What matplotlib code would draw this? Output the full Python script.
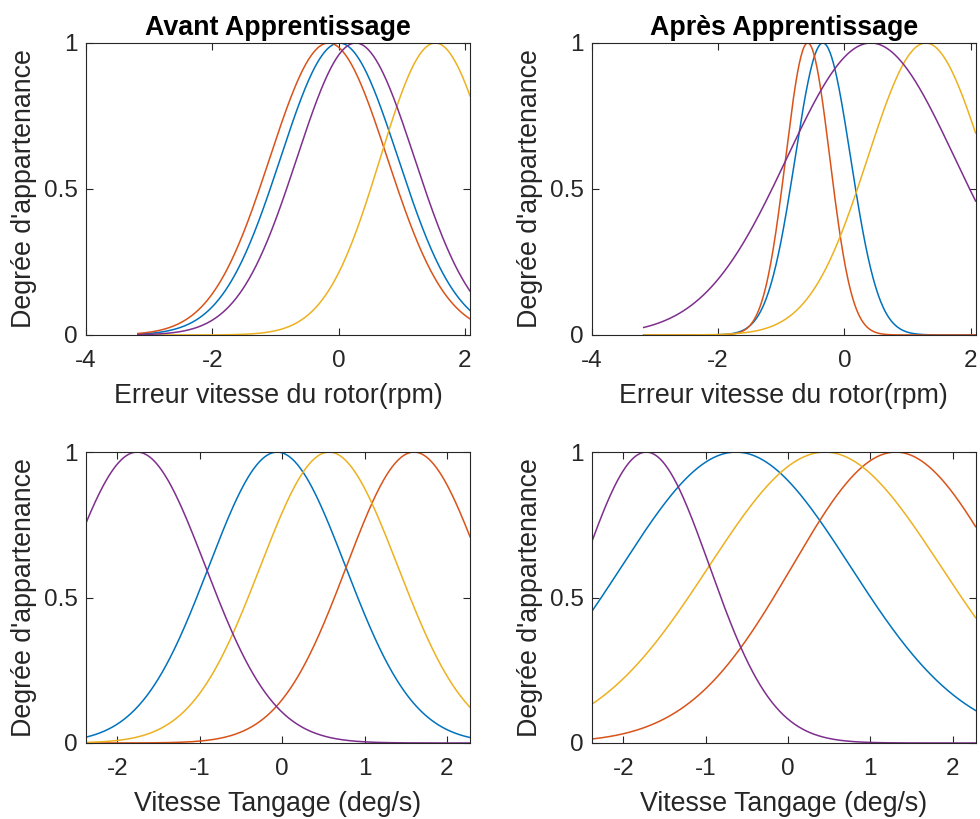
import numpy as np
import matplotlib
matplotlib.use("Agg")
import matplotlib.pyplot as plt

plt.rcParams['font.family'] = ['Liberation Sans', 'DejaVu Sans']

# Paramètres des fonctions d'appartenance gaussiennes (centre, sigma)
# ordre des couleurs : bleu, rouge, jaune, violet
err_centres_avant = [0.01, -0.16, 1.53, 0.27]
err_sigmas_avant = [0.93, 0.93, 0.87, 0.93]
err_centres_apres = [-0.34, -0.58, 1.29, 0.42]
err_sigmas_apres = [0.44, 0.35, 0.92, 1.33]
tang_centres_avant = [-0.06, 1.60, 0.57, -1.76]
tang_sigmas_avant = [0.83, 0.82, 0.835, 0.83]
tang_centres_apres = [-0.63, 1.31, 0.45, -1.72]
tang_sigmas_apres = [1.39, 1.26, 1.41, 0.77]

err_range = [-3.18, 2.08]
tang_range = [-2.38, 2.28]

colors = ['#0072BD', '#D95319', '#EDB120', '#7E2F8E']
dark = '#262626'


def gaussmf(x, c, s):
    return np.exp(-(x - c) ** 2 / (2 * s ** 2))


def tracer(ax, rng, centres, sigmas, xlim, xticks, xlabel, title=None):
    x = np.linspace(rng[0], rng[1], 400)
    for c, s, col in zip(centres, sigmas, colors):
        ax.plot(x, gaussmf(x, c, s), color=col, lw=1.1)
    ax.set_xlim(xlim)
    ax.set_ylim(0, 1)
    ax.set_xticks(xticks)
    ax.set_xticklabels([str(t) for t in xticks])
    ax.set_yticks([0, 0.5, 1])
    ax.set_yticklabels(['0', '0.5', '1'])
    ax.tick_params(direction='in', top=True, right=True, labelsize=17.5,
                   colors=dark, length=5, width=0.8)
    ax.tick_params(axis='x', pad=11)
    ax.tick_params(axis='y', pad=6)
    for sp in ax.spines.values():
        sp.set_color(dark)
        sp.set_linewidth(0.8)
    ax.set_xlabel(xlabel, fontsize=19.3, color=dark, labelpad=8)
    ax.set_ylabel("Degrée d'appartenance", fontsize=19.3, color=dark, labelpad=5)
    if title:
        ax.set_title(title, fontsize=19.3, fontweight='bold', pad=6)


fig = plt.figure(figsize=(9.8, 8.19), dpi=100)
ax1 = fig.add_axes([0.0878, 0.591, 0.3918, 0.3565])
ax2 = fig.add_axes([0.604, 0.591, 0.3915, 0.3565])
ax3 = fig.add_axes([0.0878, 0.0928, 0.3918, 0.3552])
ax4 = fig.add_axes([0.604, 0.0928, 0.3915, 0.3552])

tracer(ax1, err_range, err_centres_avant, err_sigmas_avant, [-4, 2.08], [-4, -2, 0, 2],
       "Erreur vitesse du rotor(rpm)", "Avant Apprentissage")
tracer(ax2, err_range, err_centres_apres, err_sigmas_apres, [-4, 2.08], [-4, -2, 0, 2],
       "Erreur vitesse du rotor(rpm)", "Après Apprentissage")
tracer(ax3, tang_range, tang_centres_avant, tang_sigmas_avant, tang_range, [-2, -1, 0, 1, 2],
       "Vitesse Tangage (deg/s)")
tracer(ax4, tang_range, tang_centres_apres, tang_sigmas_apres, tang_range, [-2, -1, 0, 1, 2],
       "Vitesse Tangage (deg/s)")

fig.savefig("out.png", dpi=100)
